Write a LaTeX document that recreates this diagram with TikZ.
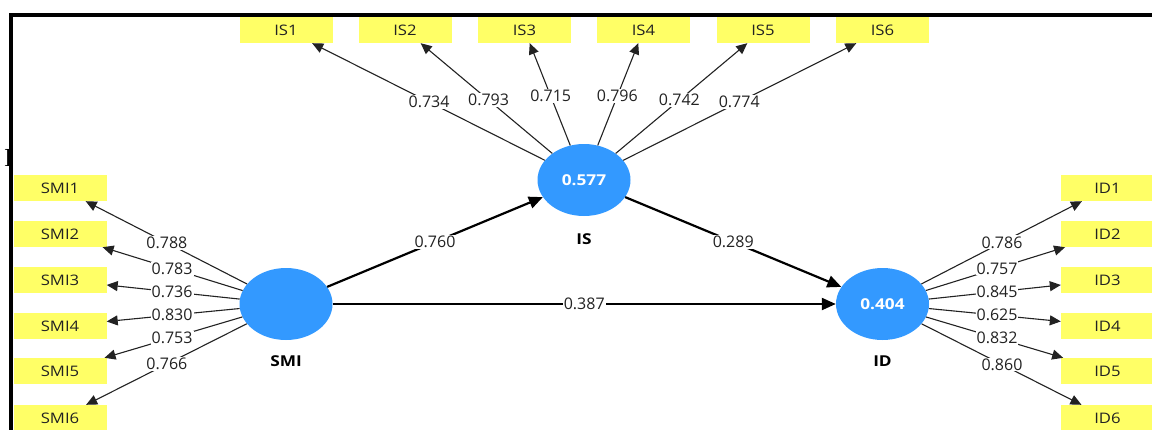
\documentclass[tikz,border=0pt]{standalone}
\usepackage{fontspec}
\setmainfont{Open Sans}
\newfontfamily\wideface{Open Sans}[FakeStretch=1.15]
\newfontfamily\strayface{Liberation Serif}
\usetikzlibrary{shapes.geometric,arrows.meta,calc}
\definecolor{indyellow}{RGB}{255,255,102}
\definecolor{latblue}{RGB}{51,153,255}
\definecolor{txtc}{RGB}{34,34,34}
\begin{document}
\begin{tikzpicture}[x=1pt,y=-1pt,
  ind/.style={fill=indyellow, minimum width=93pt, minimum height=26pt, inner sep=0pt,
    font=\wideface\fontsize{14.5}{16}\selectfont, text=txtc},
  lat/.style={ellipse, fill=latblue, minimum width=93pt, minimum height=72pt, inner sep=0pt,
    font=\wideface\bfseries\fontsize{15}{17}\selectfont, text=white},
  latname/.style={font=\wideface\bfseries\fontsize{15}{17}\selectfont, text=black},
  loadarrow/.style={draw=txtc, line width=1.1pt, -{Triangle[length=11pt,width=10pt]}},
  structarrow/.style={draw=black, line width=2.2pt, -{Triangle[length=14pt,width=12pt]}},
  coef/.style={fill=white, inner sep=1pt, font=\fontsize{16}{18}\selectfont, text=txtc},
]
\useasboundingbox (0,0) rectangle (1152,429);

% stray glyph and frame
\node[font=\strayface\fontsize{26}{28}\selectfont, inner sep=0pt] (stray) at (8.5,157.5) {I};
\draw[line width=4pt] (10.5,435) -- (10.5,15) -- (1155,15);

% latent variables
\node[lat] (SMI) at (286,304) {};
\node[lat] (IS) at (584,180) {0.577};
\node[lat] (ID) at (882.5,304) {0.404};
\node[latname] (SMIname) at (286,361) {SMI};
\node[latname] (ISname) at (584,239) {IS};
\node[latname] (IDname) at (882.5,361) {ID};

% indicators
\foreach \i/\x in {1/286,2/405,3/524.5,4/643.5,5/763,6/882.5}
  \node[ind] (IS\i) at (\x,30) {IS\i};
\foreach \i/\y in {1/188,2/234,3/280,4/326,5/371,6/418}{
  \node[ind] (SMI\i) at (60,\y) {SMI\i};
  \node[ind] (ID\i) at (1107.5,\y) {ID\i};
}

% outer loadings
\foreach \i/\v/\f in {1/0.734/0.52,2/0.793/0.533,3/0.715/0.56,4/0.796/0.56,5/0.742/0.533,6/0.774/0.52}{
  \draw[loadarrow] (IS) -- (IS\i);
  \node[coef] (cIS\i) at ($(IS.center)!\f!(IS\i.center)$) {\v};
}
\foreach \i/\v/\f in {1/0.788/0.527,2/0.783/0.504,3/0.736/0.504,4/0.830/0.504,5/0.753/0.504,6/0.766/0.527}{
  \draw[loadarrow] (SMI) -- (SMI\i);
}
\foreach \i/\v/\f in {1/0.786/0.531,2/0.757/0.509,3/0.845/0.509,4/0.625/0.509,5/0.832/0.509,6/0.860/0.531}{
  \draw[loadarrow] (ID) -- (ID\i);
}
\foreach \i/\v/\f in {1/0.788/0.527,2/0.783/0.504,3/0.736/0.504,4/0.830/0.504,5/0.753/0.504,6/0.766/0.527}{
  \node[coef] (cSMI\i) at ($(SMI.center)!\f!(SMI\i.center)$) {\v};
}
\foreach \i/\v/\f in {1/0.786/0.531,2/0.757/0.509,3/0.845/0.509,4/0.625/0.509,5/0.832/0.509,6/0.860/0.531}{
  \node[coef] (cID\i) at ($(ID.center)!\f!(ID\i.center)$) {\v};
}

% structural paths
\draw[structarrow] (SMI) -- (IS);
\draw[structarrow] (IS) -- (ID);
\draw[structarrow] (SMI) -- (ID);
\node[coef] (c1) at ($(SMI.center)!0.5!(IS.center)$) {0.760};
\node[coef] (c2) at ($(IS.center)!0.5!(ID.center)$) {0.289};
\node[coef] (c3) at ($(SMI.center)!0.5!(ID.center)$) {0.387};
\end{tikzpicture}
\end{document}
